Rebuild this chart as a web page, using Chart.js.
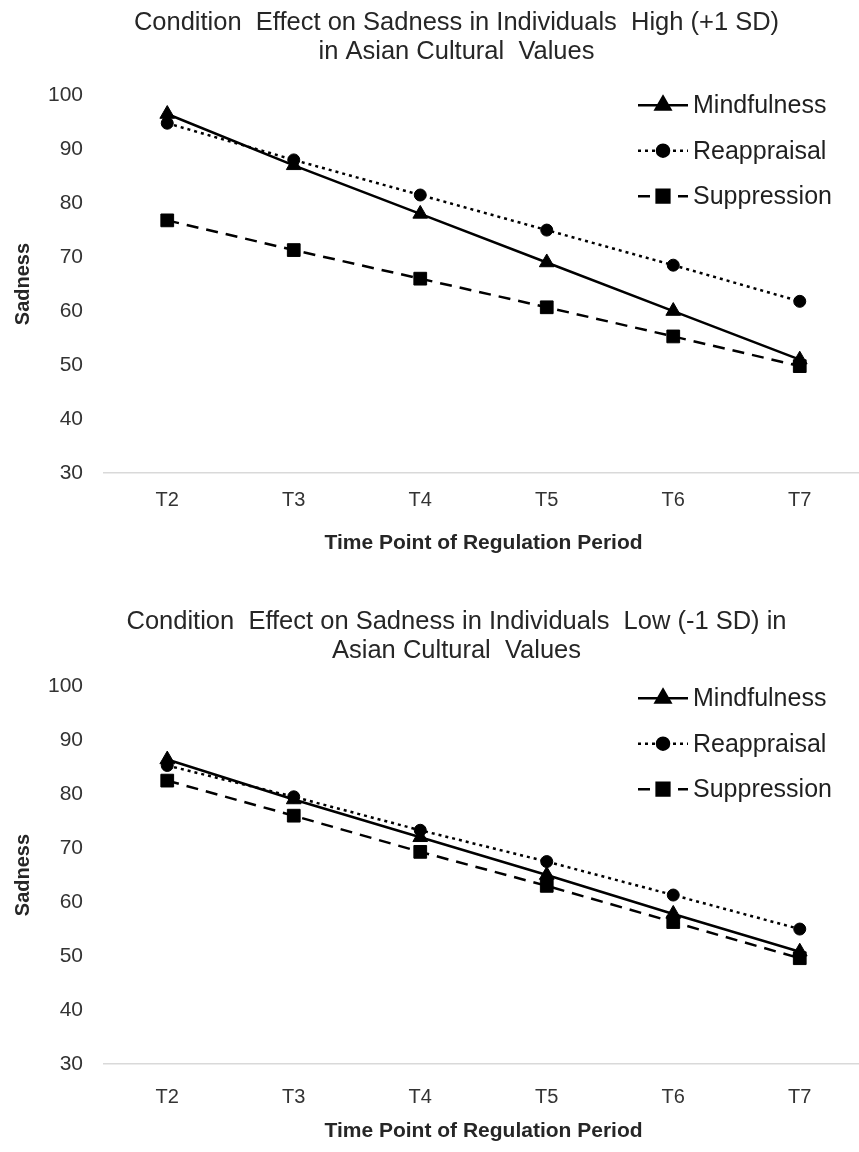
<!DOCTYPE html>
<html>
<head>
<meta charset="utf-8">
<script src="https://cdn.jsdelivr.net/npm/chart.js@4.4.1/dist/chart.umd.min.js"></script>
<style>
  html, body { margin: 0; padding: 0; background: #fff; overflow: hidden; }
  /* the original plot is cut off a little at the right edge, so the canvas runs past the window */
  .panel { position: absolute; left: 0; width: 873px; height: 576px; }
</style>
</head>
<body>
<div class="panel" style="top:0"><canvas id="chartHigh"></canvas></div>
<div class="panel" style="top:576px"><canvas id="chartLow"></canvas></div>
<script>
// Categories and tick values
const timePoints = ['T2', 'T3', 'T4', 'T5', 'T6', 'T7'];
const yTickValues = [30, 40, 50, 60, 70, 80, 90, 100];
const seriesNames = ['Mindfulness', 'Reappraisal', 'Suppression'];

// High (+1 SD) in Asian cultural values
const highMindfulness = [96.5, 87, 78, 69, 60, 51];
const highReappraisal = [94.8, 88, 81.5, 75, 68.5, 61.8];
const highSuppression = [76.8, 71.3, 66, 60.7, 55.3, 49.8];

// Low (-1 SD) in Asian cultural values
const lowMindfulness = [86.4, 79, 72, 65, 57.8, 50.8];
const lowReappraisal = [85.3, 79.5, 73.3, 67.5, 61.3, 55];
const lowSuppression = [82.5, 76, 69.3, 63, 56.3, 49.6];

const highTitle = ['Condition  Effect on Sadness in Individuals  High (+1 SD)', 'in Asian Cultural  Values'];
const lowTitle = ['Condition  Effect on Sadness in Individuals  Low (-1 SD) in', 'Asian Cultural  Values'];

const FONT = '"Liberation Sans", Arial, sans-serif';

// line style per condition
const seriesStyles = [
  { dash: [], point: 'triangle', radius: 8.5 },
  { dash: [3, 4], point: 'circle', radius: 6 },
  { dash: [12, 8], point: 'rect', radius: 9 }
];

// Legend drawn inside the plot, top right, like the original figure
const insideLegend = {
  id: 'insideLegend',
  afterDraw(chart, args, opts) {
    const ctx = chart.ctx;
    ctx.save();
    chart.data.datasets.forEach((ds, i) => {
      const y = chart.chartArea.top + opts.offsetY + i * 45.5;
      const x0 = 638, x1 = 688;
      ctx.strokeStyle = '#000';
      ctx.lineWidth = 2.5;
      ctx.setLineDash(ds.borderDash || []);
      ctx.beginPath();
      ctx.moveTo(x0, y);
      ctx.lineTo(x1, y);
      ctx.stroke();
      ctx.setLineDash([]);
      ctx.fillStyle = '#000';
      Chart.helpers.drawPoint(ctx, {
        pointStyle: ds.pointStyle, radius: ds.pointRadius, rotation: 0, borderWidth: 1
      }, (x0 + x1) / 2, y);
      ctx.fillStyle = '#1f1f1f';
      ctx.font = '25px ' + FONT;
      ctx.textAlign = 'left';
      ctx.textBaseline = 'middle';
      ctx.fillText(ds.label, 693, y + 1);
    });
    ctx.restore();
  }
};

function makeChart(canvasId, titleLines, values, lay) {
  const ctx = document.getElementById(canvasId).getContext('2d');
  const datasets = seriesNames.map((name, i) => ({
    label: name,
    data: values[i],
    borderColor: '#000',
    backgroundColor: '#000',
    borderWidth: 2.5,
    borderDash: seriesStyles[i].dash,
    pointStyle: seriesStyles[i].point,
    pointRadius: seriesStyles[i].radius,
    pointBackgroundColor: '#000',
    pointBorderColor: '#000',
    pointBorderWidth: 1,
    tension: 0,
    fill: false
  }));

  return new Chart(ctx, {
    type: 'line',
    data: { labels: timePoints, datasets: datasets },
    options: {
      responsive: true,
      maintainAspectRatio: false,
      animation: false,
      layout: { padding: { left: 40, right: 0, top: 0, bottom: 0 } },
      plugins: {
        legend: { display: false },
        tooltip: { enabled: false },
        title: {
          display: true,
          text: titleLines,
          color: '#262626',
          font: { family: FONT, size: 25.5, weight: 'normal', lineHeight: 1.14 },
          padding: { top: lay.titleTop, bottom: lay.titleBottom }
        },
        insideLegend: { offsetY: lay.legendY }
      },
      scales: {
        x: {
          offset: true,
          grid: { display: false, drawTicks: false },
          border: { display: true, color: '#d9d9d9', width: 1.5 },
          ticks: { color: '#333', font: { family: FONT, size: 20 }, padding: lay.xTickPad },
          title: {
            display: true,
            text: 'Time Point of Regulation Period',
            color: '#262626',
            font: { family: FONT, size: 21, weight: 'bold', lineHeight: 1.2 },
            padding: { top: 0, bottom: lay.xTitlePad }
          },
          afterFit: (scale) => { scale.height = lay.xHeight; }
        },
        y: {
          min: yTickValues[0],
          max: yTickValues[yTickValues.length - 1],
          grid: { display: false, drawTicks: false },
          border: { display: false },
          ticks: { stepSize: 10, color: '#333', font: { family: FONT, size: 21 }, padding: 21 },
          title: {
            display: true,
            text: 'Sadness',
            color: '#262626',
            font: { family: FONT, size: 20, weight: 'bold', lineHeight: 1.2 },
            padding: { top: -29, bottom: 0 }
          },
          afterFit: (scale) => { scale.width = 64; }
        }
      }
    },
    plugins: [insideLegend]
  });
}

makeChart('chartHigh', highTitle, [highMindfulness, highReappraisal, highSuppression],
  { titleTop: 8.5, titleBottom: 28.5, xHeight: 103, xTickPad: 15, xTitlePad: 20, legendY: 10 });
makeChart('chartLow', lowTitle, [lowMindfulness, lowReappraisal, lowSuppression],
  { titleTop: 31.5, titleBottom: 20.5, xHeight: 88, xTickPad: 21, xTitlePad: 8, legendY: 12 });
</script>
</body>
</html>
